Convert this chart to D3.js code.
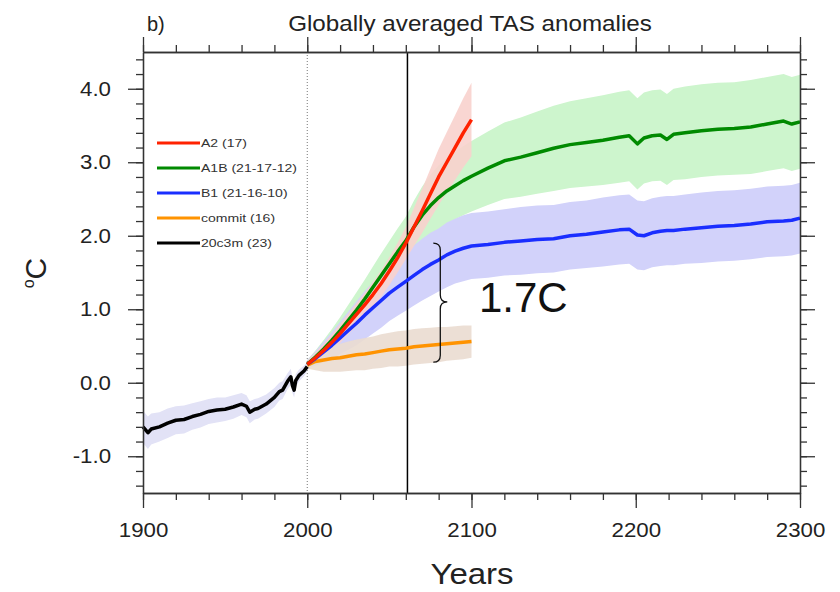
<!DOCTYPE html>
<html>
<head>
<meta charset="utf-8">
<script src="https://cdn.jsdelivr.net/npm/d3@7"></script>
<style>
body { margin: 0; background: #fff; }
text { font-family: "Liberation Sans", Arial, Helvetica, sans-serif; }
</style>
</head>
<body>
<svg id="chart" width="840" height="592"></svg>
<script>
// 20th century run (20c3m)
var histYears = [1900,1903,1905,1910,1915,1920,1925,1930,1935,1940,1945,1950,1955,1960,1963,1965,1968,1970,1975,1980,1983,1985,1988,1990,1991,1992,1993,1995,1998,2000];
var histVals  = [-0.60,-0.68,-0.63,-0.60,-0.55,-0.51,-0.50,-0.46,-0.43,-0.39,-0.37,-0.36,-0.33,-0.29,-0.32,-0.40,-0.36,-0.35,-0.29,-0.20,-0.12,-0.10,0.02,0.08,-0.04,-0.10,0.03,0.10,0.16,0.22];
var histSpread = [0.22,0.22,0.21,0.20,0.20,0.19,0.19,0.18,0.18,0.17,0.17,0.16,0.16,0.15,0.15,0.15,0.14,0.14,0.13,0.13,0.12,0.12,0.11,0.11,0.10,0.10,0.09,0.08,0.07,0.06];

// 21st century scenarios, 2000-2100
var c21Years = [2000,2005,2010,2015,2020,2025,2030,2035,2040,2045,2050,2055,2060,2065,2070,2075,2080,2085,2090,2095,2100];
var a2Vals     = [0.25,0.34,0.44,0.55,0.67,0.80,0.93,1.06,1.20,1.35,1.52,1.70,1.90,2.12,2.34,2.57,2.80,3.00,3.20,3.40,3.58];
var a2Spread   = [0.05,0.07,0.09,0.11,0.13,0.14,0.15,0.16,0.17,0.18,0.19,0.20,0.22,0.26,0.30,0.34,0.38,0.41,0.44,0.47,0.50];
var commitVals = [0.24,0.29,0.31,0.33,0.34,0.36,0.38,0.39,0.41,0.43,0.45,0.46,0.47,0.49,0.50,0.51,0.52,0.53,0.54,0.55,0.56];
var commitSpread = [0.05,0.12,0.16,0.18,0.19,0.20,0.21,0.22,0.22,0.23,0.23,0.24,0.24,0.24,0.24,0.24,0.24,0.23,0.23,0.23,0.22];

// extended scenarios, 2000-2300
var extYears = [2000,2005,2010,2015,2020,2025,2030,2035,2040,2045,2050,2055,2060,2065,2070,2075,2080,2085,2090,2095,2100,
  2110,2120,2130,2140,2150,2160,2170,2180,2190,2196,2201,2205,2210,2215,2219,2223,2230,2240,2250,2260,2270,2280,2290,2295,2300];
var a1bVals = [0.25,0.35,0.46,0.58,0.71,0.85,0.99,1.14,1.30,1.46,1.62,1.78,1.93,2.12,2.28,2.41,2.52,2.61,2.68,2.75,2.81,
  2.92,3.02,3.07,3.13,3.19,3.24,3.27,3.30,3.34,3.36,3.25,3.33,3.36,3.37,3.31,3.38,3.40,3.43,3.45,3.46,3.48,3.52,3.56,3.52,3.55];
var a1bSpread = [0.06,0.09,0.12,0.15,0.18,0.21,0.24,0.26,0.28,0.30,0.31,0.32,0.33,0.36,0.39,0.42,0.44,0.45,0.46,0.47,0.48,
  0.50,0.52,0.54,0.56,0.58,0.59,0.60,0.61,0.62,0.62,0.62,0.62,0.62,0.62,0.62,0.62,0.63,0.63,0.63,0.63,0.64,0.64,0.64,0.64,0.64];
var b1Vals = [0.25,0.33,0.42,0.51,0.61,0.71,0.81,0.92,1.02,1.12,1.22,1.30,1.38,1.46,1.54,1.61,1.67,1.74,1.79,1.83,1.86,
  1.88,1.91,1.93,1.95,1.96,2.00,2.02,2.05,2.08,2.09,2.01,2.00,2.04,2.06,2.07,2.07,2.09,2.11,2.13,2.14,2.16,2.19,2.20,2.21,2.24];
var b1Spread = [0.06,0.10,0.14,0.18,0.22,0.26,0.30,0.33,0.35,0.37,0.38,0.39,0.40,0.41,0.42,0.43,0.43,0.44,0.44,0.45,0.45,
  0.45,0.45,0.46,0.46,0.46,0.46,0.46,0.47,0.47,0.47,0.47,0.47,0.47,0.47,0.47,0.47,0.47,0.48,0.48,0.48,0.48,0.48,0.48,0.48,0.48];

var legendNames = ["A2 (17)", "A1B (21-17-12)", "B1 (21-16-10)", "commit (16)", "20c3m (23)"];
var legendColors = ["#ff2200", "#008a00", "#1a2eff", "#ff9300", "#000000"];

var xTicks = [1900, 2000, 2100, 2200, 2300];
var yTicks = [-1.0, 0.0, 1.0, 2.0, 3.0, 4.0];

var svg = d3.select("#chart");
var plotLeft = 143, plotRight = 800, plotTop = 52, plotBottom = 493;

var x = d3.scaleLinear().domain([1900, 2300]).range([plotLeft, plotRight]);
var y = d3.scaleLinear().domain([-1.5, 4.5]).range([plotBottom, plotTop]);

function zip(years, vals, spread) {
  return years.map(function (yr, i) {
    return { year: yr, v: vals[i], s: spread ? spread[i] : 0 };
  });
}

// the original picture's lettering is a bit wider than Liberation Sans
function stretch(sel, f) {
  sel.each(function () {
    var len = this.getComputedTextLength();
    d3.select(this).attr("textLength", len * f).attr("lengthAdjust", "spacingAndGlyphs");
  });
}

var line = d3.line().x(function (d) { return x(d.year); }).y(function (d) { return y(d.v); });
var area = d3.area()
  .x(function (d) { return x(d.year); })
  .y0(function (d) { return y(d.v - d.s); })
  .y1(function (d) { return y(d.v + d.s); });

var hist = zip(histYears, histVals, histSpread);
var a2 = zip(c21Years, a2Vals, a2Spread);
var commit = zip(c21Years, commitVals, commitSpread);
var a1b = zip(extYears, a1bVals, a1bSpread);
var b1 = zip(extYears, b1Vals, b1Spread);

// spread bands
svg.append("path").datum(hist).attr("d", area).attr("fill", "#e2e2f6");
svg.append("path").datum(a1b).attr("d", area).attr("fill", "#cdf5cd");
svg.append("path").datum(b1).attr("d", area).attr("fill", "#d2d2fa");
svg.append("path").datum(a2).attr("d", area).attr("fill", "#f8d2cd").attr("opacity", 0.9);
svg.append("path").datum(commit).attr("d", area).attr("fill", "#eadcd0").attr("opacity", 0.9);

// reference lines
svg.append("line")
  .attr("x1", x(2000)).attr("x2", x(2000)).attr("y1", plotTop).attr("y2", plotBottom)
  .attr("stroke", "#777").attr("stroke-width", 1).attr("stroke-dasharray", "1,2");
svg.append("line")
  .attr("x1", x(2061)).attr("x2", x(2061)).attr("y1", plotTop).attr("y2", plotBottom)
  .attr("stroke", "#000").attr("stroke-width", 1.5);

// series lines
[[commit, "#ff9300"], [b1, "#1a2eff"], [a1b, "#008a00"], [a2, "#ff2200"], [hist, "#000000"]].forEach(function (s) {
  svg.append("path").datum(s[0]).attr("d", line)
    .attr("fill", "none").attr("stroke", s[1]).attr("stroke-width", 3.5)
    .attr("stroke-linejoin", "round");
});

// frame with ticks on all four sides
var minorX = d3.range(1900, 2301, 20);
var minorY = d3.range(-7, 23).map(function (i) { return i / 5; });

function styleAxis(g) {
  g.selectAll("path, line").attr("stroke", "#333").attr("stroke-width", 1.3);
  g.selectAll("text").attr("font-size", "21px").attr("fill", "#222")
    .attr("font-family", "'Liberation Sans', Arial, sans-serif");
  stretch(g.selectAll("text"), 1.06);
}

svg.append("g").attr("transform", "translate(0," + plotBottom + ")")
  .call(d3.axisBottom(x).tickValues(minorX).tickSize(7).tickSizeOuter(0).tickFormat(""))
  .call(styleAxis);
svg.append("g").attr("transform", "translate(0," + plotBottom + ")")
  .call(d3.axisBottom(x).tickValues(xTicks).tickSize(15).tickSizeOuter(0).tickPadding(14).tickFormat(d3.format("d")))
  .call(styleAxis);
svg.append("g").attr("transform", "translate(0," + plotTop + ")")
  .call(d3.axisTop(x).tickValues(minorX).tickSize(7).tickSizeOuter(0).tickFormat(""))
  .call(styleAxis);
svg.append("g").attr("transform", "translate(0," + plotTop + ")")
  .call(d3.axisTop(x).tickValues(xTicks).tickSize(15).tickSizeOuter(0).tickFormat(""))
  .call(styleAxis);
svg.append("g").attr("transform", "translate(" + plotLeft + ",0)")
  .call(d3.axisLeft(y).tickValues(minorY).tickSize(7).tickSizeOuter(0).tickFormat(""))
  .call(styleAxis);
svg.append("g").attr("transform", "translate(" + plotLeft + ",0)")
  .call(d3.axisLeft(y).tickValues(yTicks).tickSize(15).tickSizeOuter(0).tickPadding(17)
    .tickFormat(function (d) { return d.toFixed(1); }))
  .call(styleAxis);
svg.append("g").attr("transform", "translate(" + plotRight + ",0)")
  .call(d3.axisRight(y).tickValues(minorY).tickSize(7).tickSizeOuter(0).tickFormat(""))
  .call(styleAxis);
svg.append("g").attr("transform", "translate(" + plotRight + ",0)")
  .call(d3.axisRight(y).tickValues(yTicks).tickSize(15).tickSizeOuter(0).tickFormat(""))
  .call(styleAxis);

// titles
svg.append("text").attr("x", 147).attr("y", 31).attr("font-size", "20px").attr("fill", "#222").text("b)");
svg.append("text").attr("x", 470).attr("y", 31).attr("text-anchor", "middle")
  .attr("font-size", "22px").attr("fill", "#222").text("Globally averaged TAS anomalies")
  .call(stretch, 1.1);
svg.append("text").attr("x", 472).attr("y", 584).attr("text-anchor", "middle")
  .attr("font-size", "30px").attr("fill", "#222").text("Years")
  .call(stretch, 1.1);
var yl = svg.append("text").attr("transform", "translate(46,273) rotate(-90)")
  .attr("text-anchor", "middle").attr("font-size", "30px").attr("fill", "#222");
yl.append("tspan").attr("font-size", "16px").attr("dy", "-12").text("o");
yl.append("tspan").attr("dy", "12").text("C");

// legend
var legend = svg.append("g");
legendNames.forEach(function (name, i) {
  var ly = 143 + i * 25;
  legend.append("line").attr("x1", 157).attr("x2", 200).attr("y1", ly).attr("y2", ly)
    .attr("stroke", legendColors[i]).attr("stroke-width", 3);
  legend.append("text").attr("x", 201).attr("y", ly + 4).attr("font-size", "11.5px")
    .attr("fill", "#333").text(name)
    .call(stretch, 1.22);
});

// bracket annotation for the A1B - commit difference at 2061
var bx = x(2081), bTop = y(1.90), bBot = y(0.28), bMid = y(1.10);
svg.append("path")
  .attr("d", "M" + (bx - 7) + "," + bTop + " Q" + bx + "," + bTop + " " + bx + "," + (bTop + 7) +
    " L" + bx + "," + (bMid - 7) + " Q" + bx + "," + bMid + " " + (bx + 7) + "," + bMid +
    " Q" + bx + "," + bMid + " " + bx + "," + (bMid + 7) +
    " L" + bx + "," + (bBot - 7) + " Q" + bx + "," + bBot + " " + (bx - 7) + "," + bBot)
  .attr("fill", "none").attr("stroke", "#111").attr("stroke-width", 1.3);
svg.append("text").attr("x", x(2104.5)).attr("y", y(0.96))
  .attr("font-size", "42px").attr("fill", "#111").text("1.7C");
</script>
</body>
</html>
